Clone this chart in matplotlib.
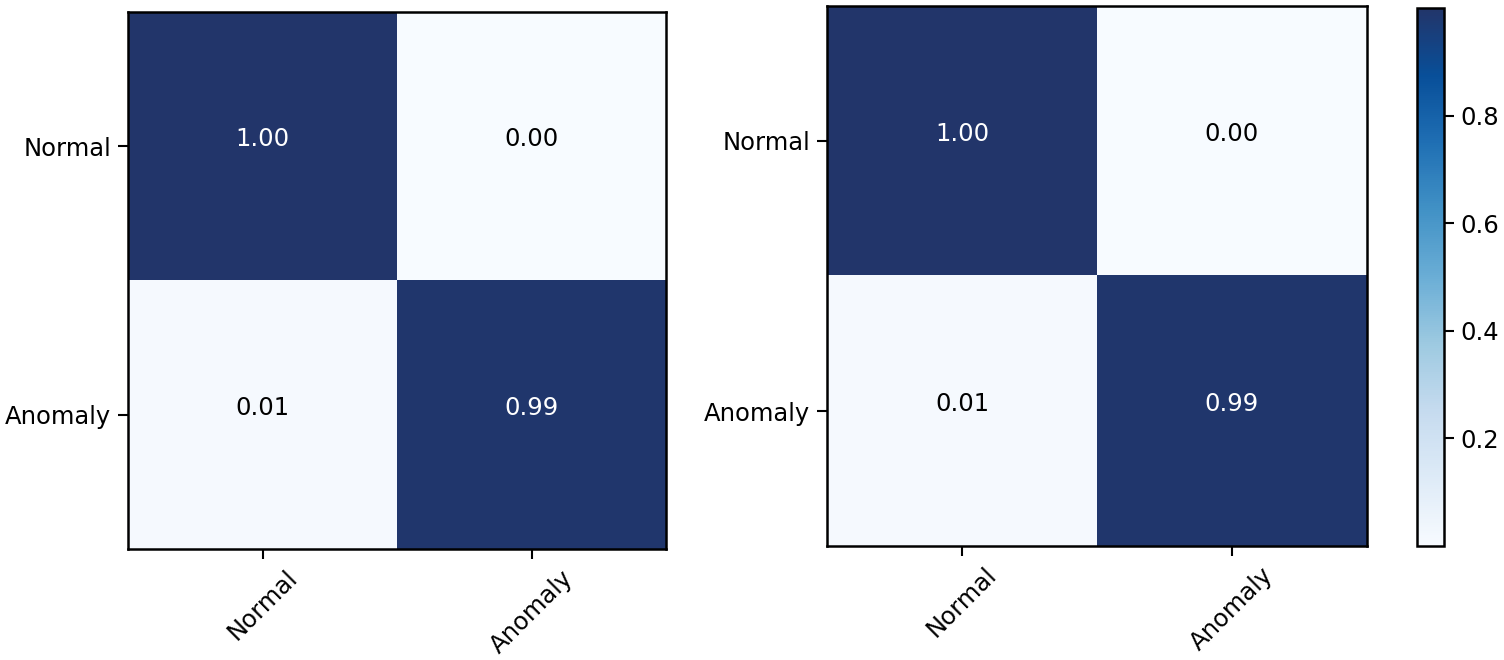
import numpy as np
import matplotlib
matplotlib.use("Agg")
import matplotlib.pyplot as plt
from matplotlib.colors import LinearSegmentedColormap

# Dados das duas matrizes de confusão (normalizadas)
classes = ["Normal", "Anomaly"]
cm_left = [[1.00, 0.00],
           [0.01, 0.99]]
cm_right = [[1.00, 0.00],
            [0.01, 0.99]]
cbar_ticks = [0.2, 0.4, 0.6, 0.8]

# Colormap tipo Blues, com topo azul-marinho como na figura
blues = plt.get_cmap("Blues")
stops = [blues(v) for v in np.linspace(0, 0.88, 8)] + ["#22356a"]
cmap = LinearSegmentedColormap.from_list("blues_navy", stops)

plt.rcParams["font.family"] = "DejaVu Sans"
plt.rcParams["font.size"] = 17.5

fig = plt.figure(figsize=(15.04, 6.6), dpi=100)
ax1 = fig.add_axes([128 / 1504, 1 - 549 / 660, 538 / 1504, 537 / 660])
ax2 = fig.add_axes([827 / 1504, 1 - 546 / 660, 540 / 1504, 540 / 660])
cax = fig.add_axes([1417 / 1504, 1 - 546 / 660, 27 / 1504, 538 / 660])


def desenhar(ax, cm):
    cm = np.array(cm)
    im = ax.imshow(cm, cmap=cmap, vmin=0.0, vmax=1.0, aspect="auto",
                   interpolation="nearest")
    for i in range(cm.shape[0]):
        for j in range(cm.shape[1]):
            cor = "white" if cm[i, j] > 0.5 else "black"
            ax.text(j, i, f"{cm[i, j]:.2f}", ha="center", va="baseline",
                    color=cor, fontsize=17.5)
    ax.set_xticks(range(len(classes)))
    ax.set_yticks(range(len(classes)))
    ax.set_xticklabels(classes, rotation=45, ha="center")
    ax.set_yticklabels(classes)
    ax.tick_params(length=7, width=1.5, pad=5)
    for s in ax.spines.values():
        s.set_linewidth(1.8)
    return im


desenhar(ax1, cm_left)
im = desenhar(ax2, cm_right)

cb = fig.colorbar(im, cax=cax, ticks=cbar_ticks)
cb.ax.tick_params(length=7, width=1.5, pad=5, labelsize=17.5)
cb.outline.set_linewidth(1.8)

fig.savefig("out.png", dpi=100)
